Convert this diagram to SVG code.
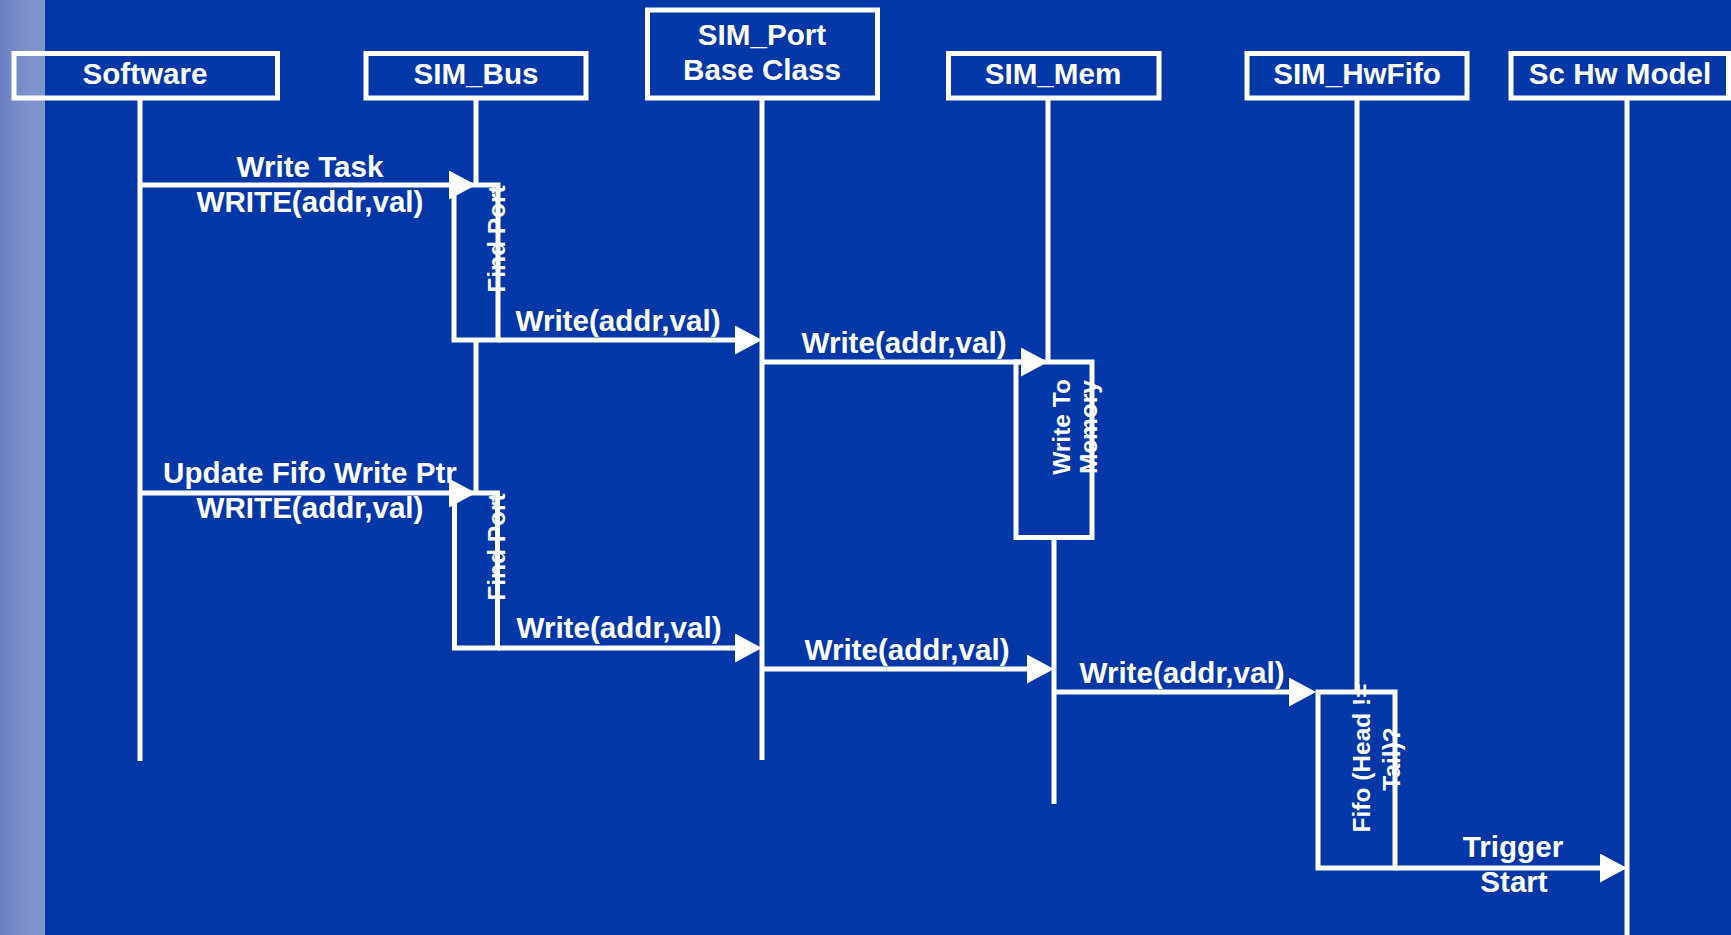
<svg xmlns="http://www.w3.org/2000/svg" width="1731" height="935" viewBox="0 0 1731 935">
<defs>
<linearGradient id="strip" x1="0" y1="0" x2="1" y2="0">
<stop offset="0" stop-color="#6a7fc0"/>
<stop offset="0.6" stop-color="#7d91cb"/>
<stop offset="1" stop-color="#8094cc"/>
</linearGradient>
<marker id="ah" markerUnits="userSpaceOnUse" markerWidth="30" markerHeight="30" refX="17" refY="14.5" orient="auto">
<path d="M0,0 L27,14.5 L0,29 z" fill="#ffffff"/>
</marker>
<style>
.box{fill:none;stroke:#ffffff;stroke-width:5}
.life{stroke:#ffffff;stroke-width:5;fill:none}
.act{fill:none;stroke:#ffffff;stroke-width:5}
.msg{stroke:#ffffff;stroke-width:5;fill:none;marker-end:url(#ah)}
.lbl{font-family:"Liberation Sans",Arial,sans-serif;font-weight:bold;font-size:29.6px;fill:#ffffff;text-anchor:middle}
.vl{font-family:"Liberation Sans",Arial,sans-serif;font-weight:bold;font-size:24.5px;fill:#ffffff;text-anchor:middle}
</style>
</defs>
<rect x="0" y="0" width="1731" height="935" fill="#0237a7"/>
<rect x="0" y="0" width="45" height="935" fill="url(#strip)"/>

<g id="software">
<rect class="box" x="14" y="53.5" width="263.5" height="44.5"/>
<text class="lbl" x="145" y="84">Software</text>
<line class="life" x1="140" y1="100" x2="140" y2="761"/>
</g>
<g id="sim_bus">
<rect class="box" x="366" y="53.5" width="220" height="44.5"/>
<text class="lbl" x="476" y="84">SIM_Bus</text>
<line class="life" x1="476" y1="100" x2="476" y2="185"/>
<line class="life" x1="476" y1="340" x2="476" y2="493"/>
</g>
<g id="sim_port">
<rect class="box" x="647.5" y="10" width="230" height="88"/>
<text class="lbl" x="762" y="45">SIM_Port</text>
<text class="lbl" x="762" y="80">Base Class</text>
<line class="life" x1="762" y1="100" x2="762" y2="760"/>
</g>
<g id="sim_mem">
<rect class="box" x="948.5" y="53.5" width="210.5" height="44.5"/>
<text class="lbl" x="1053" y="84">SIM_Mem</text>
<line class="life" x1="1048" y1="100" x2="1048" y2="362"/>
<line class="life" x1="1054" y1="537" x2="1054" y2="804"/>
</g>
<g id="sim_hwfifo">
<rect class="box" x="1247" y="53.5" width="220" height="44.5"/>
<text class="lbl" x="1357" y="84">SIM_HwFifo</text>
<line class="life" x1="1357" y1="100" x2="1357" y2="692"/>
</g>
<g id="sc_hw_model">
<rect class="box" x="1511" y="53.5" width="217.5" height="44.5"/>
<text class="lbl" x="1620" y="84">Sc Hw Model</text>
<line class="life" x1="1627" y1="100" x2="1627" y2="935"/>
</g>

<g id="act_find_port_1">
<rect class="act" x="454" y="185" width="44" height="155"/>
<text class="vl" transform="translate(505,239) rotate(-90)">Find Port</text>
</g>
<g id="act_find_port_2">
<rect class="act" x="454.5" y="493" width="43" height="155"/>
<text class="vl" transform="translate(505,547) rotate(-90)">Find Port</text>
</g>
<g id="act_write_memory">
<rect class="act" x="1016" y="362" width="76" height="175.5"/>
<text class="vl" transform="translate(1070,427) rotate(-90)">Write To</text>
<text class="vl" transform="translate(1097,427) rotate(-90)">Memory</text>
</g>
<g id="act_fifo_check">
<rect class="act" x="1318" y="692" width="77" height="176"/>
<text class="vl" transform="translate(1370,758) rotate(-90)">Fifo (Head !=</text>
<text class="vl" transform="translate(1400,759) rotate(-90)">Tail)?</text>
</g>

<g id="connectors">
<line class="msg" x1="140" y1="185" x2="466" y2="185"/>
<line class="msg" x1="498" y1="340" x2="752" y2="340"/>
<line class="msg" x1="762" y1="362" x2="1038" y2="362"/>
<line class="msg" x1="140" y1="493" x2="466" y2="493"/>
<line class="msg" x1="498" y1="648" x2="752" y2="648"/>
<line class="msg" x1="762" y1="669" x2="1044" y2="669"/>
<line class="msg" x1="1054" y1="692" x2="1306" y2="692"/>
<line class="msg" x1="1395" y1="868" x2="1617" y2="868"/>
<text class="lbl" x="310" y="177">Write Task</text>
<text class="lbl" x="310" y="212">WRITE(addr,val)</text>
<text class="lbl" x="618" y="331">Write(addr,val)</text>
<text class="lbl" x="904" y="353">Write(addr,val)</text>
<text class="lbl" x="310" y="483">Update Fifo Write Ptr</text>
<text class="lbl" x="310" y="518">WRITE(addr,val)</text>
<text class="lbl" x="619" y="638">Write(addr,val)</text>
<text class="lbl" x="907" y="660">Write(addr,val)</text>
<text class="lbl" x="1182" y="683">Write(addr,val)</text>
<text class="lbl" x="1513" y="857">Trigger</text>
<text class="lbl" x="1514" y="892">Start</text>
</g>
</svg>
